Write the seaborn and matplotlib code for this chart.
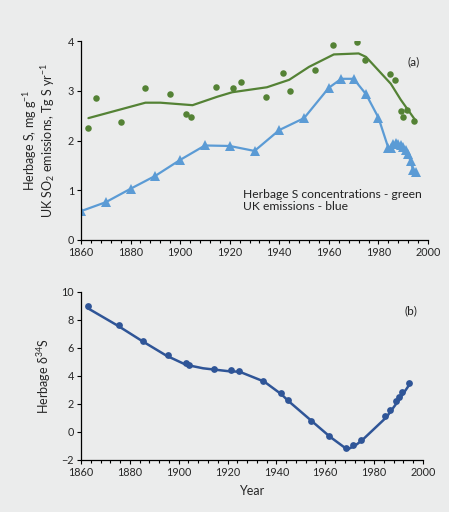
import matplotlib
matplotlib.use("Agg")
import matplotlib.pyplot as plt
from matplotlib.ticker import MultipleLocator
import seaborn as sns

# Данные
# (a) концентрации S в траве - зелёные точки
herb_years = [1863, 1866, 1876, 1886, 1896, 1902.5, 1904.5, 1914.5, 1921.5, 1924.5,
              1934.5, 1941.5, 1944.5, 1954.5, 1961.5, 1971.5, 1974.5, 1984.5,
              1986.5, 1989, 1990, 1991.5, 1994.5]
herb_s = [2.25, 2.85, 2.38, 3.05, 2.94, 2.53, 2.47, 3.07, 3.05, 3.18,
          2.88, 3.35, 2.99, 3.42, 3.92, 3.98, 3.62, 3.33,
          3.22, 2.60, 2.48, 2.62, 2.40]

# сглаженная зелёная линия
herb_fit_years = [1863, 1886, 1892, 1905, 1915, 1921, 1935, 1944, 1952, 1962,
                  1972, 1975, 1985, 1989, 1995]
herb_fit = [2.45, 2.76, 2.76, 2.71, 2.88, 2.97, 3.07, 3.22, 3.48, 3.73,
            3.75, 3.68, 3.14, 2.82, 2.40]

# выбросы SO2 в UK - синие треугольники
emis_years = [1860, 1870, 1880, 1890, 1900, 1910, 1920, 1930, 1940, 1950, 1960,
              1965, 1970, 1975, 1980, 1984, 1985, 1986, 1987, 1988, 1989, 1990,
              1991, 1992, 1993, 1994, 1995]
emis = [0.58, 0.76, 1.03, 1.29, 1.61, 1.90, 1.89, 1.79, 2.21, 2.45, 3.06,
        3.24, 3.24, 2.93, 2.46, 1.85, 1.85, 1.93, 1.95, 1.92, 1.90, 1.87,
        1.80, 1.72, 1.58, 1.40, 1.36]

# (b) delta 34S
d34_years = [1862.7, 1875.5, 1885.5, 1895.6, 1902.8, 1904.4, 1914.5, 1921.6, 1924.5,
             1934.6, 1941.7, 1944.8, 1954.3, 1961.4, 1968.5, 1971.5, 1974.5,
             1984.5, 1986.4, 1989.1, 1990.0, 1991.5, 1994.3]
d34 = [8.97, 7.66, 6.51, 5.51, 4.91, 4.82, 4.53, 4.44, 4.37,
       3.67, 2.77, 2.29, 0.76, -0.25, -1.16, -0.92, -0.55,
       1.14, 1.58, 2.24, 2.48, 2.84, 3.51]

d34_fit_years = [1862.7, 1875, 1885, 1895, 1903, 1910, 1920, 1925, 1935, 1942,
                 1945, 1955, 1962, 1969, 1972, 1975, 1985, 1990, 1994.3]
d34_fit = [8.85, 7.6, 6.5, 5.45, 4.8, 4.55, 4.35, 4.3, 3.6, 2.7,
           2.2, 0.7, -0.35, -1.25, -1.0, -0.6, 1.05, 2.25, 3.35]

BG = "#EBECEC"
GREEN = "#548235"
BLUE = "#5B9BD5"
DBLUE = "#2F5597"

sns.set_theme(style="white")
plt.rcParams["font.family"] = ["Lato", "DejaVu Sans"]
plt.rcParams["mathtext.default"] = "regular"
plt.rcParams["text.color"] = "#222222"

fig = plt.figure(figsize=(4.49, 5.12), dpi=100, facecolor=BG)
ax1 = fig.add_axes([81 / 449, 1 - 240 / 512, 347 / 449, 199 / 512])
ax2 = fig.add_axes([81 / 449, 1 - 460 / 512, 342 / 449, 168 / 512])

# --- (a) ---
sns.lineplot(x=emis_years, y=emis, ax=ax1, color=BLUE, lw=1.6, marker="^",
             markersize=6.5, markeredgewidth=0, estimator=None, sort=False)
sns.lineplot(x=herb_fit_years, y=herb_fit, ax=ax1, color=GREEN, lw=1.6,
             estimator=None, sort=False)
sns.scatterplot(x=herb_years, y=herb_s, ax=ax1, color=GREEN, s=22,
                linewidth=0)
ax1.set_ylim(0, 4)
ax1.set_yticks([0, 1, 2, 3, 4])
ax1.set_ylabel("Herbage S, mg g$^{-1}$\nUK SO$_2$ emissions, Tg S yr$^{-1}$",
               fontsize=9, labelpad=8, linespacing=0.95)
ax1.text(1994.3, 3.58, "(a)", fontsize=8.5, ha="center", va="center")
ax1.text(1925.3, 0.6, "Herbage S concentrations - green\nUK emissions - blue",
         fontsize=8.7, linespacing=1.1)

# --- (b) ---
sns.lineplot(x=d34_fit_years, y=d34_fit, ax=ax2, color=DBLUE, lw=1.8,
             estimator=None, sort=False)
sns.scatterplot(x=d34_years, y=d34, ax=ax2, color=DBLUE, s=24, linewidth=0)
ax2.set_ylim(-2, 10)
ax2.set_yticks(range(-2, 11, 2))
ax2.set_ylabel("Herbage δ$^{34}$S", fontsize=9, labelpad=6)
ax2.set_xlabel("Year", fontsize=9, labelpad=5)
ax2.text(1995, 8.64, "(b)", fontsize=8.5, ha="center", va="center")

for ax in (ax1, ax2):
    ax.set_facecolor(BG)
    ax.set_xlim(1860, 2000)
    ax.xaxis.set_major_locator(MultipleLocator(20))
    ax.xaxis.set_minor_locator(MultipleLocator(4))
    ax.tick_params(axis="both", which="both", direction="out", length=3,
                   width=0.8, color="black", labelsize=7.8, pad=2,
                   bottom=True, left=True)
    ax.tick_params(axis="x", which="minor", length=2.5)
    for side in ("top", "right"):
        ax.spines[side].set_visible(False)
    for side in ("left", "bottom"):
        ax.spines[side].set_color("black")
        ax.spines[side].set_linewidth(0.9)

fig.savefig("out.png", dpi=100, facecolor=BG)
